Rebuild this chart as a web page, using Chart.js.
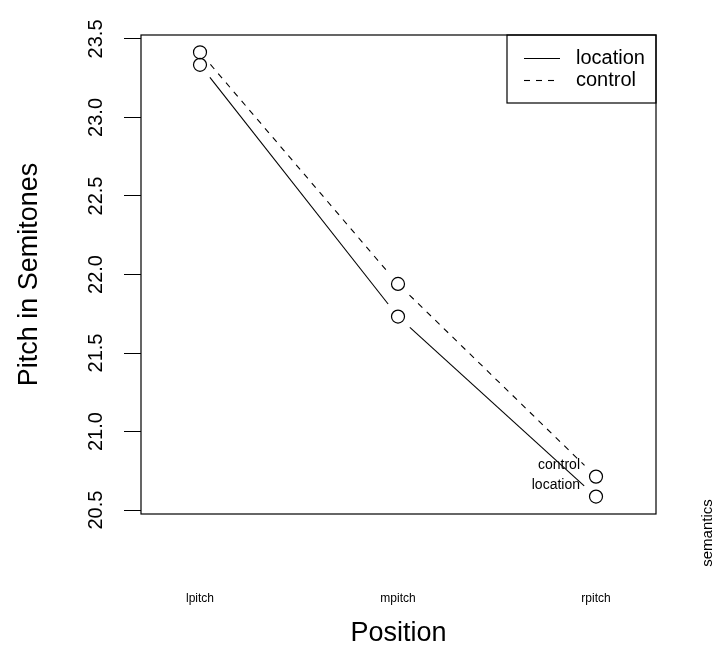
<!DOCTYPE html>
<html>
<head>
<meta charset="utf-8">
<script src="https://cdn.jsdelivr.net/npm/chart.js@4/dist/chart.umd.min.js"></script>
<style>
  html, body { margin: 0; padding: 0; background: #fff; }
  #wrap { width: 714px; height: 646px; }
</style>
</head>
<body>
<div id="wrap"><canvas id="c" width="714" height="646"></canvas></div>
<script>
// Mean pitch per position, one series per semantics condition
const positions = ['lpitch', 'mpitch', 'rpitch'];
const locationPitch = [23.335, 21.732, 20.586];
const controlPitch = [23.415, 21.940, 20.713];
const yTicks = [20.5, 21.0, 21.5, 22.0, 22.5, 23.0, 23.5];
const seriesNames = ['location', 'control'];
const traceLabel = 'semantics';
const xTitle = 'Position';
const yTitle = 'Pitch in Semitones';

const FONT = '"Liberation Sans", Arial, Helvetica, sans-serif';

function toPoints(values) {
  return values.map((v, i) => ({ x: i + 1, y: v }));
}

// Connect consecutive points, leaving a gap around each marker
const gapLines = {
  id: 'gapLines',
  afterDatasetsDraw(chart) {
    const ctx = chart.ctx;
    const gap = 16;
    chart.data.datasets.forEach((ds, di) => {
      const pts = chart.getDatasetMeta(di).data;
      ctx.save();
      ctx.strokeStyle = '#000';
      ctx.lineWidth = 1.1;
      ctx.setLineDash(ds.borderDash || []);
      for (let i = 0; i < pts.length - 1; i++) {
        const a = pts[i], b = pts[i + 1];
        const dx = b.x - a.x, dy = b.y - a.y;
        const len = Math.hypot(dx, dy);
        const ux = dx / len, uy = dy / len;
        ctx.beginPath();
        ctx.moveTo(a.x + ux * gap, a.y + uy * gap);
        ctx.lineTo(b.x - ux * gap, b.y - uy * gap);
        ctx.stroke();
      }
      ctx.restore();
    });
  }
};

// Plot frame, legend box, end-of-trace labels and the trace factor name
const decorations = {
  id: 'decorations',
  afterDraw(chart) {
    const ctx = chart.ctx;
    const a = chart.chartArea;
    ctx.save();
    ctx.strokeStyle = '#000';
    ctx.lineWidth = 1.2;
    ctx.setLineDash([]);
    ctx.strokeRect(a.left, a.top, a.right - a.left, a.bottom - a.top);

    // legend
    const lx0 = 507, ly0 = a.top, lx1 = a.right, ly1 = 103;
    ctx.strokeRect(lx0, ly0, lx1 - lx0, ly1 - ly0);
    ctx.font = '20px ' + FONT;
    ctx.fillStyle = '#000';
    ctx.textBaseline = 'middle';
    ctx.textAlign = 'left';
    const rows = [58, 80];
    chart.data.datasets.forEach((ds, i) => {
      const y = rows[i];
      ctx.lineWidth = 1.1;
      ctx.setLineDash(ds.borderDash || []);
      ctx.beginPath();
      ctx.moveTo(524, y + 0.5);
      ctx.lineTo(560, y + 0.5);
      ctx.stroke();
      ctx.setLineDash([]);
      ctx.fillText(ds.label, 576, y);
    });

    // labels at the last point of each trace
    ctx.font = '14px ' + FONT;
    ctx.textAlign = 'right';
    chart.data.datasets.forEach((ds, i) => {
      const pts = chart.getDatasetMeta(i).data;
      const p = pts[pts.length - 1];
      ctx.fillText(ds.label, p.x - 16, p.y - 11);
    });

    // trace factor name in the right margin
    ctx.font = '15px ' + FONT;
    ctx.textAlign = 'center';
    ctx.translate(708, 533);
    ctx.rotate(-Math.PI / 2);
    ctx.fillText(traceLabel, 0, 0);
    ctx.restore();
  }
};

new Chart(document.getElementById('c'), {
  type: 'line',
  data: {
    datasets: [
      {
        label: seriesNames[0],
        data: toPoints(locationPitch),
        borderDash: [],
      },
      {
        label: seriesNames[1],
        data: toPoints(controlPitch),
        borderDash: [6, 6],
      }
    ].map(ds => Object.assign(ds, {
      showLine: false,
      pointStyle: 'circle',
      pointRadius: 6.5,
      pointBorderWidth: 1.2,
      pointBorderColor: '#000',
      pointBackgroundColor: 'rgba(0,0,0,0)',
      borderColor: '#000',
    }))
  },
  options: {
    responsive: false,
    animation: false,
    devicePixelRatio: 1,
    layout: { padding: { left: 0, top: 35, right: 58, bottom: 0 } },
    plugins: {
      legend: { display: false },
      tooltip: { enabled: false },
    },
    scales: {
      x: {
        type: 'linear',
        min: 0.702,
        max: 3.303,
        afterBuildTicks: s => { s.ticks = positions.map((_, i) => ({ value: i + 1 })); },
        afterFit: s => { s.height = 132; },
        ticks: {
          color: '#000',
          font: { family: FONT, size: 12 },
          padding: 69,
          maxRotation: 0,
          callback: v => positions[v - 1],
        },
        grid: { display: false },
        border: { display: false },
        title: {
          display: true,
          text: xTitle,
          color: '#000',
          font: { family: FONT, size: 27, lineHeight: 1.05 },
          padding: { top: 0, bottom: -2 },
        },
      },
      y: {
        type: 'linear',
        min: 20.475,
        max: 23.525,
        afterBuildTicks: s => { s.ticks = yTicks.map(v => ({ value: v })); },
        afterFit: s => { s.width = 141; },
        ticks: {
          color: '#000',
          font: { family: FONT, size: 20 },
          padding: 8,
          minRotation: 90,
          maxRotation: 90,
          crossAlign: 'center',
          callback: v => v.toFixed(1),
        },
        grid: {
          drawOnChartArea: false,
          drawTicks: true,
          tickLength: 17,
          color: '#000',
          lineWidth: 1,
        },
        border: { display: false },
        title: {
          display: true,
          text: yTitle,
          color: '#000',
          font: { family: FONT, size: 27, lineHeight: 1.05 },
          padding: { top: 15, bottom: 0 },
        },
      },
    },
  },
  plugins: [gapLines, decorations],
});
</script>
</body>
</html>
